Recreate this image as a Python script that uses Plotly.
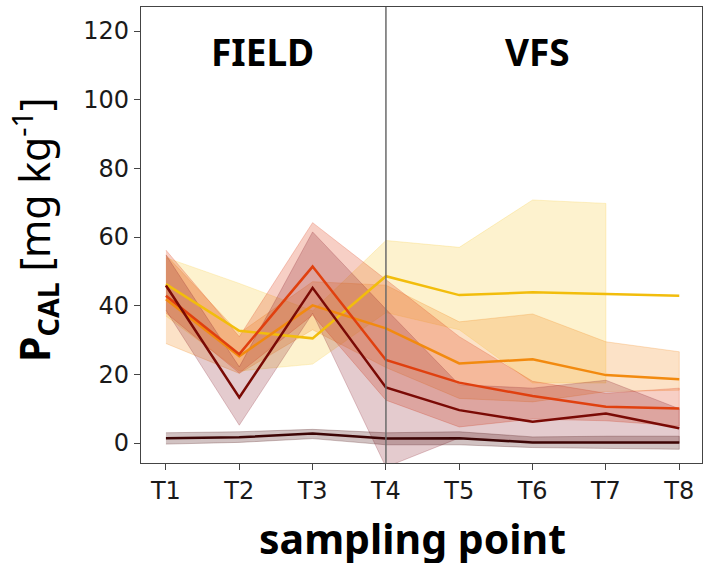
import plotly.graph_objects as go

points = ["T1", "T2", "T3", "T4", "T5", "T6", "T7", "T8"]
xpos = [1, 2, 3, 4, 5, 6, 7, 8]

yellow_mean = [46.3, 32.7, 30.5, 48.6, 43.1, 43.9, 43.4, 42.9]
yellow_up = [54.0, 46.5, 38.5, 59.0, 57.0, 70.8, 69.8, None]
yellow_lo = [37.0, 21.0, 23.0, 38.0, 33.0, 17.5, 17.5, None]

orange_mean = [41.9, 25.3, 40.1, 33.4, 23.2, 24.4, 19.8, 18.6]
orange_up = [54.8, 32.0, 47.0, 46.0, 35.3, 37.6, 29.5, 26.6]
orange_lo = [29.0, 20.3, 33.0, 22.0, 13.0, 12.0, 15.0, 15.4]

red_mean = [42.9, 25.9, 51.4, 24.2, 17.6, 13.7, 10.6, 10.1]
red_up = [56.2, 31.0, 64.2, 47.5, 31.0, 18.0, 14.5, 16.0]
red_lo = [37.9, 20.4, 37.3, 12.5, 4.7, 7.0, 6.5, 5.0]

dark_mean = [45.9, 13.3, 45.2, 16.2, 9.6, 6.2, 8.6, 4.3]
dark_up = [54.8, 22.2, 61.5, 39.0, 17.0, 16.0, 18.3, 10.0]
dark_lo = [38.7, 5.2, 37.8, -7.0, 1.5, 0.5, 0.0, 0.0]

darkest_mean = [1.4, 1.7, 2.8, 1.3, 1.4, 0.2, 0.2, 0.2]
darkest_up = [3.0, 3.3, 4.0, 3.0, 3.3, 1.8, 2.0, 2.0]
darkest_lo = [-0.3, 0.2, 1.3, -0.5, -0.5, -1.3, -1.5, -1.8]

series = [
    ("yellow", yellow_mean, yellow_up, yellow_lo, "#f2bd0c", "rgba(247,200,50,0.24)"),
    ("orange", orange_mean, orange_up, orange_lo, "#f28a0f", "rgba(242,138,30,0.25)"),
    ("red", red_mean, red_up, red_lo, "#e0400f", "rgba(224,70,30,0.26)"),
    ("darkred", dark_mean, dark_up, dark_lo, "#7a0a05", "rgba(130,20,30,0.22)"),
    ("darkest", darkest_mean, darkest_up, darkest_lo, "#3d0505", "rgba(70,10,10,0.25)"),
]

fig = go.Figure()

for name, m, up, lo, lc, fc in series:
    xs = [x for x, u in zip(xpos, up) if u is not None]
    ups = [u for u in up if u is not None]
    los = [l for l in lo if l is not None]
    fig.add_trace(go.Scatter(
        x=xs + xs[::-1], y=ups + los[::-1], fill="toself", fillcolor=fc,
        line=dict(color=fc, width=1), mode="lines", hoverinfo="skip", showlegend=False))

for name, m, up, lo, lc, fc in series:
    fig.add_trace(go.Scatter(x=xpos, y=m, mode="lines", line=dict(color=lc, width=2.5),
                             name=name, showlegend=False))

fig.add_shape(type="line", x0=4, x1=4, y0=0, y1=1, xref="x", yref="paper",
              line=dict(color="#6b6b6b", width=1.5))

common_ann = dict(xref="paper", yref="paper", showarrow=False, xanchor="center", yanchor="middle")
fig.add_annotation(x=0.217, y=0.903, text="<b>FIELD</b>",
                   font=dict(size=37, color="black", family="Noto Sans"), **common_ann)
fig.add_annotation(x=0.706, y=0.903, text="<b>VFS</b>",
                   font=dict(size=37, color="black", family="Noto Sans"), **common_ann)
fig.add_annotation(x=-0.19, y=0.512, textangle=-90,
                   text="<b>P<sub>CAL</sub></b> [mg kg<sup>-1</sup>]",
                   font=dict(size=41, color="black", family="Noto Sans"), **common_ann)
fig.add_annotation(x=0.484, y=-0.165, text="<b>sampling point</b>",
                   font=dict(size=41, color="black", family="Noto Sans"), **common_ann)

axis_common = dict(showgrid=False, zeroline=False, showline=True, mirror=True,
                   linecolor="#444", linewidth=1.2, ticks="outside", ticklen=6,
                   tickcolor="#444", automargin=False,
                   tickfont=dict(size=24, color="#1a1a1a", family="DejaVu Sans"))
fig.update_xaxes(range=[0.66, 8.31], tickvals=xpos, ticktext=points, **axis_common)
fig.update_yaxes(range=[-5.8, 127], tickvals=[0, 20, 40, 60, 80, 100, 120], **axis_common)

fig.update_layout(width=704, height=563, margin=dict(l=141, r=2, t=7, b=100),
                  plot_bgcolor="white", paper_bgcolor="white")

# remove the browser's default 8px body margin so the figure fills the window exactly
fig.write_html("out.html", config={"displayModeBar": False},
               post_script="document.body.style.margin='0px';")
